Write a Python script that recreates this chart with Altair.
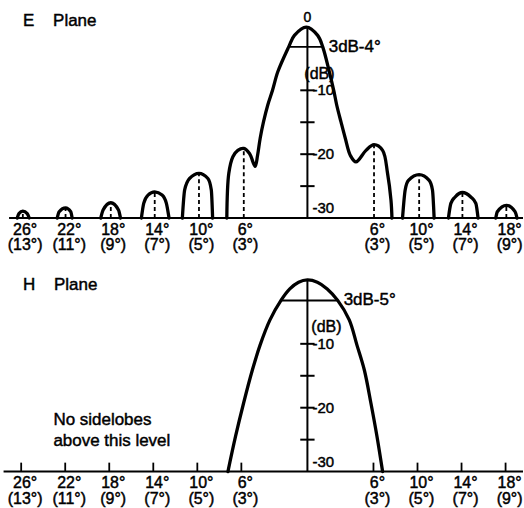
import altair as alt
import pandas as pd

# ---------------- values ----------------
# x tick angles (deg; left of boresight negative) and their two-line labels
TICK_ANG = [-26, -22, -18, -14, -10, -6, 6, 10, 14, 18]
TICK_LAB = ["26°", "22°", "18°", "14°", "10°", "6°", "6°", "10°", "14°", "18°"]
TICK_SUB = ["(13°)", "(11°)", "(9°)", "(7°)", "(5°)", "(3°)", "(3°)", "(5°)", "(7°)", "(9°)"]

# dB scale marks on the central axis
DB_TICKS = [-10, -15, -20, -25]
DB_LABEL_VALS = [-10, -20]
DB_LABELS = ["-10", "-20"]

# ---- E plane pattern (angle deg, level dB) ----
E_L26_ANG = [-26.36, -26.2, -25.85, -25.45, -25.27]
E_L26_DB = [-30, -29.3, -28.9, -29.3, -30]
E_L22_ANG = [-22.73, -22.55, -21.97, -21.5, -21.37]
E_L22_DB = [-30, -29.0, -28.4, -29.0, -30]
E_L18_ANG = [-18.77, -18.56, -17.86, -17.16, -16.98]
E_L18_DB = [-30, -28.75, -27.6, -28.75, -30]
E_L14_ANG = [-15.08, -14.87, -14.48, -13.87, -13.2, -12.81, -12.57]
E_L14_DB = [-30, -27.7, -26.4, -25.9, -26.4, -27.7, -30]
E_L10_ANG = [-11.36, -11.15, -10.7, -9.85, -9.04, -8.73, -8.61]
E_L10_DB = [-30, -25.6, -23.8, -23.0, -23.8, -25.6, -30]
E_MAIN_ANG = [-7.32, -7.14, -6.77, -6.32, -5.78, -5.26, -4.75, -4.53, -4.29, -3.99,
              -3.6, -3.17, -2.69, -1.70, -1.18, -0.1, 0.93, 1.39, 1.99, 2.39,
              2.66, 3.05, 3.44, 3.9, 4.41, 5.32, 6.05, 6.83, 7.28, 7.59, 7.68]
E_MAIN_DB = [-30, -23.0, -20.4, -19.4, -19.1, -19.9, -21.9, -20.2, -17.5, -14.95,
             -12.3, -10.0, -7.1, -3.2, -1.4, -0.1, -1.4, -3.2, -7.1, -10.0,
             -12.3, -14.95, -17.5, -20.2, -21.2, -19.4, -18.5, -19.4, -23.0, -27.2, -30]
E_R10_ANG = [8.64, 8.88, 9.18, 10.15, 11.06, 11.36, 11.51]
E_R10_DB = [-30, -25.6, -24.1, -23.2, -24.1, -25.6, -30]
E_R14_ANG = [12.81, 13.03, 13.42, 14.08, 14.84, 15.3, 15.5]
E_R14_DB = [-30, -27.7, -26.7, -26.0, -26.7, -27.7, -30]
E_R18_ANG = [17.11, 17.25, 18.07, 18.86, 19.04]
E_R18_DB = [-30, -29.0, -28.0, -29.0, -30]
# sidelobe peaks (dashed drop lines)
E_PEAK_ANG = [-25.85, -21.97, -17.86, -13.87, -9.85, -5.78, 6.05, 10.15, 14.08, 18.07]
E_PEAK_DB = [-28.9, -28.4, -27.6, -25.9, -23.0, -19.1, -18.5, -23.2, -26.0, -28.0]
E_3DB = [-1.70, 1.39, -3.2]

# ---- H plane pattern ----
H_MAIN_ANG = [-7.22, -6.53, -5.8, -5.0, -4.3, -3.4, -2.4, -1.6, -0.8, 0.0,
              0.9, 1.8, 2.75, 3.8, 4.5, 5.17, 5.77, 6.32, 6.83]
H_MAIN_DB = [-30, -24.5, -19.3, -14.1, -10.2, -6.25, -3.2, -1.4, -0.35, 0.0,
             -0.35, -1.4, -3.2, -6.25, -10.2, -14.1, -19.3, -24.5, -30]
H_3DB = [-2.4, 2.75, -3.2]

# ---------------- layout ----------------
FONT = "Liberation Sans"
W, H = 524, 254
X_DOM = [-27.924, 19.583]
Y_DOM = [-35.625, 4.0625]
xs = alt.Scale(domain=X_DOM, nice=False, zero=False)
ys = alt.Scale(domain=Y_DOM, nice=False, zero=False)
TXT = dict(font=FONT, color="black", stroke="black", strokeWidth=0.45)


def X(f):
    return alt.X(f, type="quantitative", scale=xs, axis=None)


def Y(f):
    return alt.Y(f, type="quantitative", scale=ys, axis=None)


def lobes(pairs):
    rows = []
    for name, (a, d) in pairs.items():
        for x, y in zip(a, d):
            rows.append({"lobe": name, "ang": x, "db": y})
    return pd.DataFrame(rows)


def curve_layer(df, interp):
    return alt.Chart(df).mark_line(
        color="black", strokeWidth=3.3, interpolate=interp,
        strokeCap="round", strokeJoin="round"
    ).encode(x=X("ang"), y=Y("db"), detail="lobe:N")


def panel(three_db, three_lab, title, base_x0, peak_db, unit_dx):
    base = alt.Chart(pd.DataFrame({"a0": [base_x0], "a1": [X_DOM[1]], "v": [-30]})).mark_rule(
        color="black", strokeWidth=2
    ).encode(x=X("a0"), x2="a1", y=Y("v"))

    axis = alt.Chart(pd.DataFrame({"a": [0], "v0": [-30], "v1": [peak_db]})).mark_rule(
        color="black", strokeWidth=2
    ).encode(x=X("a"), y=Y("v0"), y2="v1")

    ticks = alt.Chart(pd.DataFrame({"v": DB_TICKS})).transform_calculate(
        a0="-0.65", a1="0.65"
    ).mark_rule(color="black", strokeWidth=2).encode(x=X("a0:Q"), x2="a1:Q", y=Y("v"))

    l3 = alt.Chart(pd.DataFrame({"a0": [three_db[0]], "a1": [three_db[1]], "v": [three_db[2]]}))
    line3 = l3.mark_rule(color="black", strokeWidth=2).encode(x=X("a0"), x2="a1", y=Y("v"))
    text3 = l3.mark_text(
        align="left", baseline="middle", dx=6, fontSize=17, **TXT
    ).encode(x=X("a1"), y=Y("v"), text=alt.value(three_lab))

    dbl = alt.Chart(pd.DataFrame({"a": [0, 0], "v": DB_LABEL_VALS, "t": DB_LABELS})).mark_text(
        align="left", baseline="middle", dx=5, fontSize=15, **TXT
    ).encode(x=X("a"), y=Y("v"), text="t:N")
    db30 = alt.Chart(pd.DataFrame({"a": [0], "v": [-30], "t": ["-30"]})).mark_text(
        align="left", baseline="bottom", dx=5, dy=-2, fontSize=15, **TXT
    ).encode(x=X("a"), y=Y("v"), text="t:N")
    dbunit = alt.Chart(pd.DataFrame({"a": [0], "v": [-7.4], "t": ["(dB)"]})).mark_text(
        align="center", baseline="middle", dx=unit_dx, fontSize=16, **TXT
    ).encode(x=X("a"), y=Y("v"), text="t:N")

    tdf = pd.DataFrame({"a": TICK_ANG, "t1": TICK_LAB, "t2": TICK_SUB, "v": [-30] * len(TICK_ANG)})
    lab1 = alt.Chart(tdf).mark_text(
        align="center", baseline="middle", dx=4, dy=11.5, fontSize=16, **TXT
    ).encode(x=X("a"), y=Y("v"), text="t1:N")
    lab2 = alt.Chart(tdf).mark_text(
        align="center", baseline="middle", dx=4, dy=27, fontSize=16, **TXT
    ).encode(x=X("a"), y=Y("v"), text="t2:N")

    ttl = alt.Chart(pd.DataFrame({"t": [title[0]]})).mark_text(
        align="left", baseline="middle", fontSize=17, **TXT
    ).encode(x=alt.value(23), y=alt.value(title[1]), text="t:N")

    return [base, axis, ticks, line3, text3, dbl, db30, dbunit, lab1, lab2, ttl]


NB = "\u00a0"

# ---- E plane panel ----
e_side = lobes({
    "L26": (E_L26_ANG, E_L26_DB), "L22": (E_L22_ANG, E_L22_DB),
    "L18": (E_L18_ANG, E_L18_DB), "L14": (E_L14_ANG, E_L14_DB),
    "L10": (E_L10_ANG, E_L10_DB),
    "R10": (E_R10_ANG, E_R10_DB), "R14": (E_R14_ANG, E_R14_DB),
    "R18": (E_R18_ANG, E_R18_DB),
})
e_main = lobes({"MAIN": (E_MAIN_ANG, E_MAIN_DB)})
e_layers = panel(E_3DB, "3dB-4°", ("E" + NB * 4 + "Plane", 21), -27.1, -0.1, 12)
e_dash = alt.Chart(pd.DataFrame({"a": E_PEAK_ANG, "v1": E_PEAK_DB, "v0": [-30] * len(E_PEAK_ANG)})).mark_rule(
    color="black", strokeWidth=1.8, strokeDash=[4, 3]
).encode(x=X("a"), y=Y("v0"), y2="v1")
e_zero = alt.Chart(pd.DataFrame({"a": [0], "v": [0], "t": ["0"]})).mark_text(
    align="center", baseline="middle", dy=-8.5, fontSize=14, **TXT
).encode(x=X("a"), y=Y("v"), text="t:N")
top = alt.layer(
    curve_layer(e_side, "monotone"), curve_layer(e_main, "catmull-rom"),
    *e_layers, e_dash, e_zero
).properties(width=W, height=H)

# ---- H plane panel ----
h_main = lobes({"MAIN": (H_MAIN_ANG, H_MAIN_DB)})
h_layers = panel(H_3DB, "3dB-5°", ("H" + NB * 4 + "Plane", 31), -27.6, 0.0, 19)
h_ticks = alt.Chart(pd.DataFrame({"a": TICK_ANG, "v0": [-30] * len(TICK_ANG), "v1": [-28.6] * len(TICK_ANG)})).mark_rule(
    color="black", strokeWidth=1.8
).encode(x=X("a"), y=Y("v0"), y2="v1")
h_note = alt.Chart(pd.DataFrame({"t": ["No sidelobes", "above this level"], "py": [166, 187.5]})).mark_text(
    align="left", baseline="middle", fontSize=17, **TXT
).encode(x=alt.value(53.5), y=alt.Y("py:Q", scale=None, axis=None), text="t:N")
bottom = alt.layer(
    curve_layer(h_main, "catmull-rom"), *h_layers, h_ticks, h_note
).properties(width=W, height=H)

chart = alt.vconcat(top, bottom, spacing=0, bounds="flush").properties(
    padding=0, background="white"
).configure_view(stroke=None)

chart.save("out.html", embed_options={"renderer": "svg", "actions": False})
